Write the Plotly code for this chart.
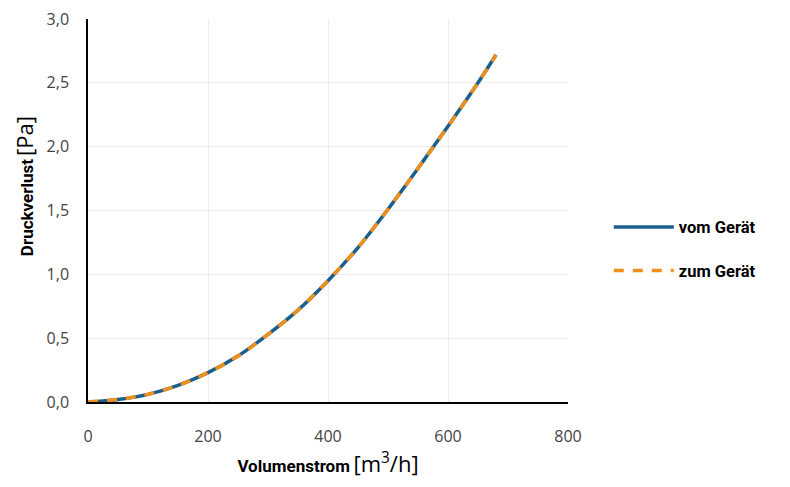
import plotly.graph_objects as go

# Volumenstrom [m3/h] und Druckverlust [Pa]
volumenstrom = [0, 50, 100, 150, 200, 250, 300, 350, 400, 450, 500, 550, 600, 650, 680]
druck_vom = [0.0, 0.02, 0.06, 0.13, 0.23, 0.36, 0.53, 0.72, 0.95, 1.21, 1.51, 1.83, 2.16, 2.50, 2.72]
druck_zum = [0.0, 0.02, 0.06, 0.13, 0.23, 0.36, 0.53, 0.72, 0.95, 1.21, 1.51, 1.83, 2.16, 2.50, 2.72]

fig = go.Figure()
fig.add_trace(go.Scatter(x=volumenstrom, y=druck_vom, mode="lines", name="vom Gerät",
                         legendgroup="vom",
                         line=dict(color="#1a5e8e", width=3.5, shape="spline", smoothing=1)))
fig.add_trace(go.Scatter(x=volumenstrom, y=druck_zum, mode="lines", name="zum Gerät",
                         legendgroup="zum",
                         line=dict(color="#f0901c", width=3.5, dash="10px,9px",
                                   shape="spline", smoothing=1)))

# page body has an 8px margin, so the figure is shifted accordingly
fig.update_layout(
    width=782, height=479,
    margin=dict(l=80, r=222, t=11, b=85),
    plot_bgcolor="white", paper_bgcolor="white",
    separators=",.",
    font=dict(family="Open Sans", color="#444"),
    legend=dict(x=1.085, y=0.40, xanchor="left", yanchor="middle",
                font=dict(family="Roboto", size=16.5, color="black", weight="bold"),
                tracegroupgap=19, itemwidth=60),
    xaxis=dict(range=[0, 800], dtick=200, showgrid=True, gridcolor="#ececec",
               showline=True, linecolor="black", linewidth=1.5, zeroline=False,
               automargin=False, ticklabeloverflow="allow",
               tickfont=dict(size=16, color="#444"), ticks="outside", ticklen=19,
               tickcolor="rgba(0,0,0,0)",
               title=dict(text="<b><span style='font-size:17px'>Volumenstrom</span></b> "
                               "<span style='font-size:22px; font-family:Open Sans'>[m<sup>3</sup>/h]</span>",
                          font=dict(family="Roboto", color="black"), standoff=11)),
    yaxis=dict(range=[0, 3.0], dtick=0.5, tickformat=".1f", showgrid=True, gridcolor="#ececec",
               showline=True, linecolor="black", linewidth=1.5, zeroline=False,
               automargin=False, ticklabeloverflow="allow",
               tickfont=dict(size=16, color="#444"), ticks="outside", ticklen=14,
               tickcolor="rgba(0,0,0,0)"),
    annotations=[dict(
        text="<b><span style='font-size:17px'>Druckverlust</span></b> "
             "<span style='font-size:22px; font-family:Open Sans'>[Pa]</span>",
        font=dict(family="Roboto", color="black"),
        textangle=-90, xref="paper", yref="paper", x=-0.133, y=0.564,
        xanchor="center", yanchor="middle", showarrow=False)],
)

fig.write_html("out.html")
